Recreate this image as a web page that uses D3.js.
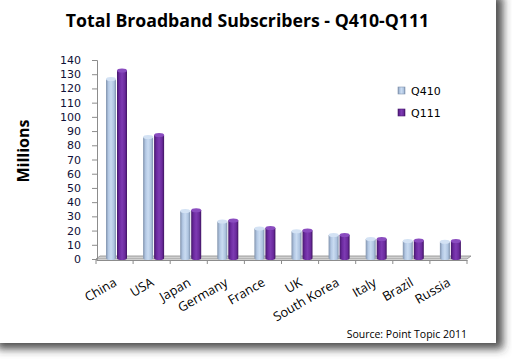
<!DOCTYPE html>
<html><head><meta charset="utf-8">
<script src="https://cdn.jsdelivr.net/npm/d3@7"></script>
<style>html,body{margin:0;padding:0;background:#fff;}svg{display:block;}</style>
</head><body>
<script>
const categories = ["China","USA","Japan","Germany","France","UK","South Korea","Italy","Brazil","Russia"];
const q410 = [126.6, 85.9, 33.8, 26.3, 21.5, 19.5, 16.8, 14.0, 12.6, 12.1];
const q111 = [132.6, 87.2, 34.3, 27.0, 21.8, 20.0, 16.9, 14.1, 13.1, 12.6];
const seriesNames = ["Q410","Q111"];
const yTicks = d3.range(0, 141, 10);

const W = 512, H = 359;
const svg = d3.select("body").append("svg").attr("width", W).attr("height", H);
const defs = svg.append("defs");

const f = defs.append("filter").attr("id","sh").attr("x","-5%").attr("y","-5%").attr("width","115%").attr("height","115%");
f.append("feDropShadow").attr("dx",7).attr("dy",6).attr("stdDeviation",4).attr("flood-color","#333").attr("flood-opacity",0.85);

function grad(id, stops){
  const g = defs.append("linearGradient").attr("id", id).attr("x1","0").attr("x2","1").attr("y1","0").attr("y2","0");
  stops.forEach(s => g.append("stop").attr("offset", s[0]).attr("stop-color", s[1]));
}
grad("gA", [["0","#8193ad"],["0.25","#b3c8e4"],["0.5","#c9dbf1"],["0.8","#aec4e0"],["1","#7d90ab"]]);
grad("gB", [["0","#45186b"],["0.25","#6c2aa0"],["0.5","#7d3bb2"],["0.8","#6a2a9c"],["1","#3e135f"]]);

// card
svg.append("rect").attr("x",-10).attr("y",-10).attr("width",506).attr("height",353)
  .attr("fill","#fff").attr("filter","url(#sh)");

const x = d3.scaleBand().domain(categories).range([96, 467]).paddingInner(0).paddingOuter(0);
const y = d3.scaleLinear().domain([0,140]).range([259, 60]);

// title
svg.append("text").attr("x", 247.5).attr("y", 27).attr("text-anchor","middle")
  .attr("font-family","Open Sans").attr("font-weight","bold").attr("font-size",17.7)
  .attr("fill","#000").text("Total Broadband Subscribers - Q410-Q111");

// y axis title
svg.append("text").attr("transform","translate(28.5,151) rotate(-90)").attr("text-anchor","middle")
  .attr("font-family","Open Sans").attr("font-weight","bold").attr("font-size",16)
  .attr("fill","#000").text("Millions");

// floor
const x0 = x.range()[0], x1 = x.range()[1];
svg.append("path").attr("d", `M${x0},${y(0)} L${x0+4},${y(0)-3} L${x1+4},${y(0)-3} L${x1},${y(0)} Z`)
  .attr("fill","#d0d0d0").attr("stroke","#8c8c8c").attr("stroke-width",0.8);

// y axis
const yAxis = d3.axisLeft(y).tickValues(yTicks).tickSize(5).tickPadding(11);
const ya = svg.append("g").attr("transform",`translate(${x0+1},0)`).call(yAxis);
ya.select(".domain").attr("stroke","#8c8c8c");
ya.selectAll(".tick line").attr("stroke","#8c8c8c");
ya.selectAll(".tick text").attr("font-family","DejaVu Sans").attr("font-size",11).attr("fill","#101038");

// x axis
const xAxis = d3.axisBottom(x).tickSize(0).tickFormat("");
const xa = svg.append("g").attr("transform",`translate(0,${y(0)+1})`).call(xAxis);
xa.select(".domain").attr("stroke","#8c8c8c");
const tickPos = categories.map(c => x(c)).concat([x1]);
svg.append("g").selectAll("line").data(tickPos).join("line")
  .attr("x1", d => d).attr("x2", d => d).attr("y1", y(0)+1).attr("y2", y(0)+5)
  .attr("stroke","#8c8c8c");

// bars
const bw = 10;
const barData = [];
categories.forEach((c,i) => {
  barData.push({c, v:q410[i], s:0});
  barData.push({c, v:q111[i], s:1});
});
const bars = svg.append("g");
barData.forEach(d => {
  const bx = x(d.c) + 10 + d.s*(bw+1);
  const top = y(d.v), bot = y(0) - 1;
  const g = bars.append("g");
  g.append("path")
    .attr("d", `M${bx},${top} L${bx},${bot} A${bw/2},2 0 0 0 ${bx+bw},${bot} L${bx+bw},${top} Z`)
    .attr("fill", d.s ? "url(#gB)" : "url(#gA)");
  g.append("ellipse").attr("cx", bx + bw/2).attr("cy", top).attr("rx", bw/2).attr("ry", 2)
    .attr("fill", d.s ? "#8a4cbf" : "#d3e2f4");
});

// category labels
svg.append("g").selectAll("text").data(categories).join("text")
  .attr("transform", d => `translate(${x(d) + x.bandwidth()/2 + 3},${y(0)+26}) rotate(-30)`)
  .attr("text-anchor","end")
  .attr("font-family","Open Sans").attr("font-size",12.8).attr("fill","#000")
  .text(d => d);

// legend
const leg = svg.append("g").selectAll("g").data(seriesNames).join("g")
  .attr("transform",(d,i) => `translate(398,${87 + i*22})`);
leg.append("rect").attr("width",7).attr("height",7)
  .attr("fill",(d,i) => i ? "url(#gB)" : "url(#gA)").attr("stroke",(d,i)=> i ? "#4a1a70" : "#8193ad").attr("stroke-width",0.6);
leg.append("text").attr("x",13).attr("y",8).attr("font-family","DejaVu Sans").attr("font-size",11).attr("fill","#000")
  .text(d => d);

// source
svg.append("text").attr("x", 467).attr("y", 338).attr("text-anchor","end")
  .attr("font-family","Open Sans").attr("font-size",10.5).attr("fill","#000")
  .text("Source: Point Topic 2011");
</script>
</body></html>
